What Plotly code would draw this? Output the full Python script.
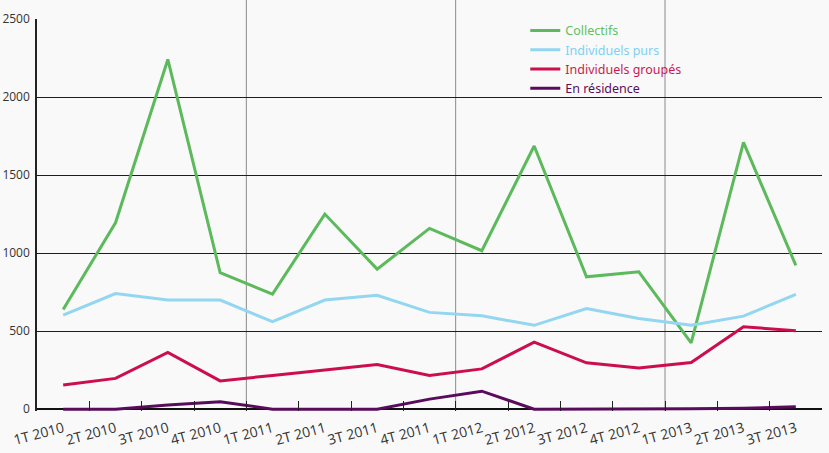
import plotly.graph_objects as go

categories = ["1T 2010", "2T 2010", "3T 2010", "4T 2010",
              "1T 2011", "2T 2011", "3T 2011", "4T 2011",
              "1T 2012", "2T 2012", "3T 2012", "4T 2012",
              "1T 2013", "2T 2013", "3T 2013"]

collectifs = [639, 1194, 2241, 874, 737, 1250, 897, 1158, 1015, 1686, 848, 880, 425, 1709, 921]
individuels_purs = [602, 741, 699, 699, 560, 699, 729, 620, 598, 537, 645, 581, 538, 596, 735]
individuels_groupes = [154, 197, 363, 181, 216, 252, 286, 216, 258, 429, 297, 263, 299, 528, 502]
en_residence = [0, 0, 26, 47, 0, 0, 0, 64, 115, 0, 0, 1, 2, 5, 15]

y_ticks = [0, 500, 1000, 1500, 2000, 2500]
y_ticktext = ["0", "500", "1000", "1500", "2000", "2500"]

series = [
    ("Collectifs", collectifs, "#5cb95c", "#62bf62"),
    ("Individuels purs", individuels_purs, "#92d6f0", "#7fd0f2"),
    ("Individuels groupés", individuels_groupes, "#cc0e4c", "#cc1852"),
    ("En résidence", en_residence, "#5a0c5c", "#5a0c5c"),
]

fig = go.Figure()
for name, vals, lc, tc in series:
    fig.add_trace(go.Scatter(
        x=categories, y=vals, mode="lines",
        name=f"<span style='color:{tc}'>{name}</span>",
        line=dict(color=lc, width=3),
    ))

# year separators (between categories where the year changes)
shapes = []
for i in range(1, len(categories)):
    if categories[i].split()[1] != categories[i - 1].split()[1]:
        shapes.append(dict(type="line", xref="x", yref="paper",
                           x0=i - 0.5, x1=i - 0.5, y0=0, y1=1.06,
                           line=dict(color="#8a8a8a", width=1), layer="below"))

fig.update_layout(
    width=829, height=453,
    margin=dict(l=37, r=7, t=19, b=42),
    paper_bgcolor="#f9f9f9",
    plot_bgcolor="#f9f9f9",
    shapes=shapes,
    showlegend=True,
    legend=dict(x=0.622, y=1.008, xanchor="left", yanchor="top",
                bgcolor="rgba(0,0,0,0)",
                font=dict(family="Noto Sans", size=12.5)),
    xaxis=dict(
        type="category", range=[-0.5, len(categories) - 0.5],
        tickson="boundaries", ticks="inside", ticklen=10,
        tickcolor="#222", tickwidth=1,
        showgrid=False, showline=False, zeroline=False,
        tickangle=-15, automargin=False, ticklabelstandoff=6,
        tickfont=dict(family="Open Sans", size=14, color="#333"),
    ),
    yaxis=dict(
        range=[-12, 2500], automargin=False,
        tickvals=y_ticks, ticktext=y_ticktext,
        showgrid=True, gridcolor="#1e1e1e", gridwidth=1,
        zeroline=True, zerolinecolor="#111", zerolinewidth=1.5,
        showline=True, linecolor="#222", linewidth=1.5,
        ticks="", ticklabelstandoff=3,
        tickfont=dict(family="Open Sans", size=12, color="#333"),
    ),
)

fig.write_html("out.html", config={"displayModeBar": False},
               post_script="document.body.style.margin='0';")
